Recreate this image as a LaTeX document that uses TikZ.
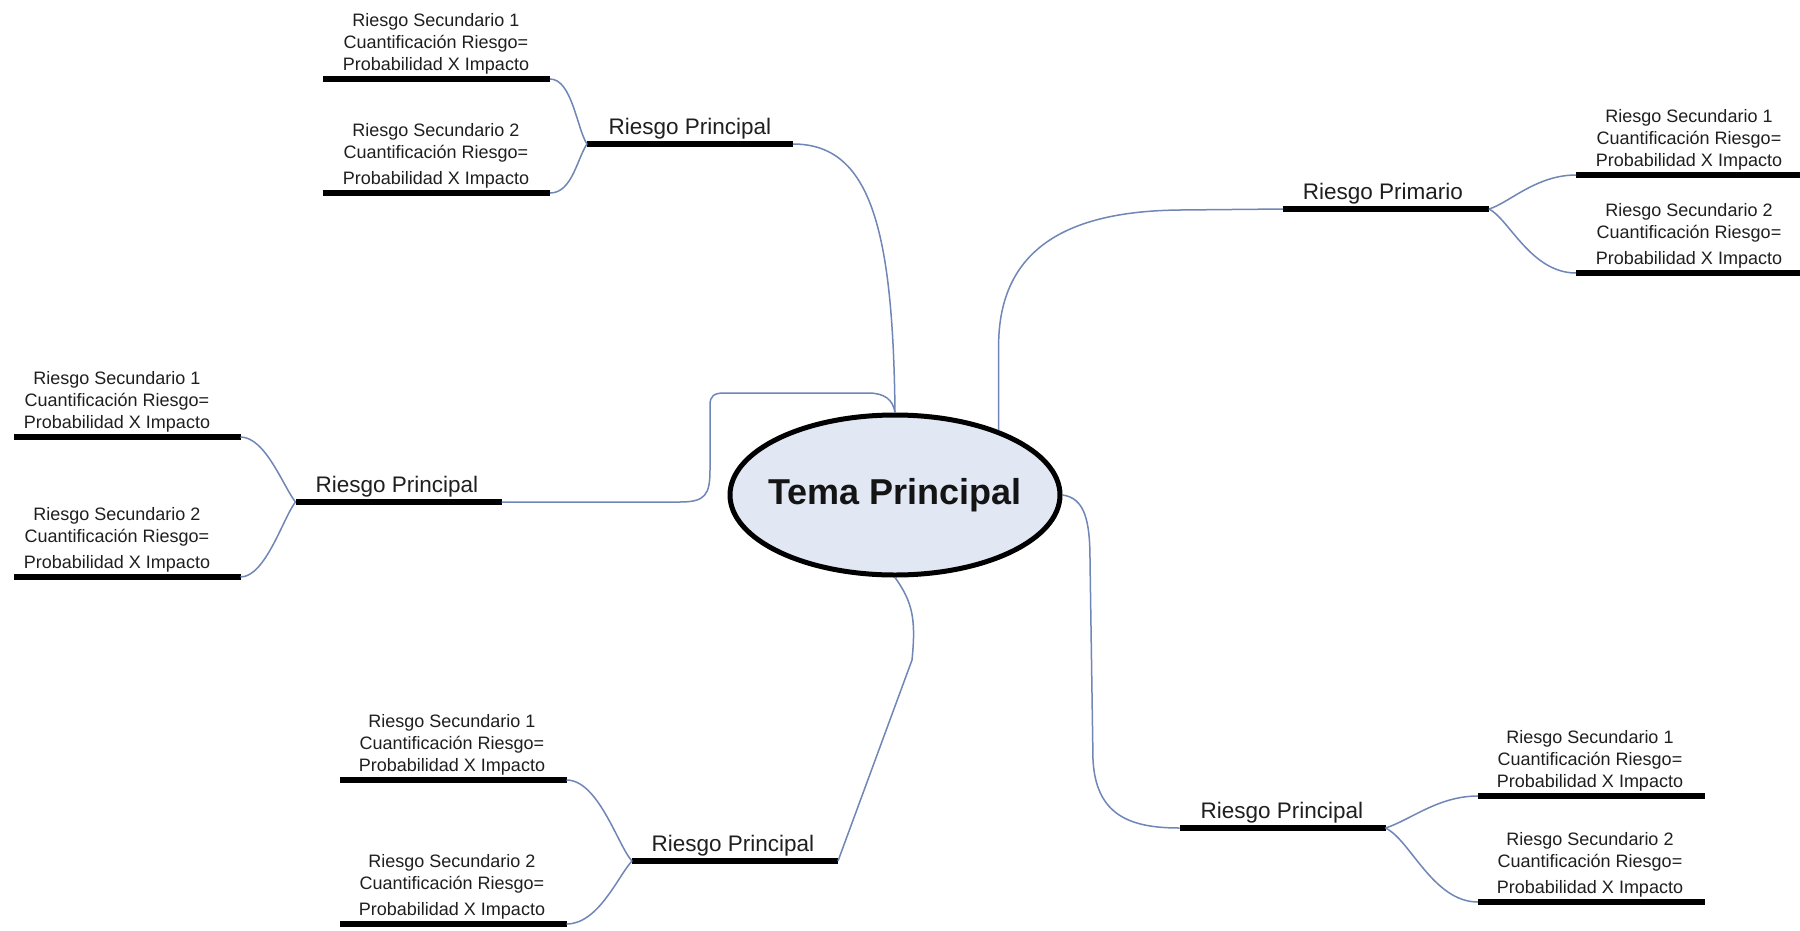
\documentclass[tikz,border=0pt]{standalone}
\usepackage{fontspec}
\setmainfont{Liberation Sans}
\usetikzlibrary{shapes.geometric}
\definecolor{linkblue}{HTML}{6F86B6}
\definecolor{hubfill}{HTML}{E1E8F4}
\begin{document}
\begin{tikzpicture}[x=1pt,y=-1pt,
  bar/.style={rectangle, fill=black, draw=none, inner sep=0pt, outer sep=0pt, minimum height=5.5pt},
  topbar/.style={bar, minimum width=206pt},
  subbar/.style={bar, minimum width=227pt},
  toptext/.style={anchor=south, inner sep=0pt, text=black!88, font=\fontsize{22.5}{27}\selectfont},
  subtext/.style={anchor=south, inner sep=0pt, align=center, text=black!88, font=\fontsize{18}{22}\selectfont},
  link/.style={draw=linkblue, line width=1.5pt},
  hub/.style={ellipse, draw=black, line width=5pt, fill=hubfill, minimum width=330pt,
    minimum height=160pt, inner sep=0pt},
  hubtext/.style={inner sep=0pt, text=black!92, font=\bfseries\fontsize{36}{40}\selectfont}
]
\fill[white] (0,0) rectangle (1800,930);
\useasboundingbox (0,0) rectangle (1800,930);

% central topic
\node[hub] (hub) at (895,495) {};
\node[hubtext] (tHub) at (hub.center) {Tema Principal};

% first-level topics: bar + label
\node[topbar] (A) at (690,144) {};
\node[toptext] (tA) at (690,139) {Riesgo Principal};
\node[topbar] (B) at (398.5,502) {};
\node[toptext] (tB) at (397,497) {Riesgo Principal};
\node[topbar] (C) at (735,861) {};
\node[toptext] (tC) at (733,856) {Riesgo Principal};
\node[topbar] (D) at (1386,209) {};
\node[toptext] (tD) at (1383,204) {Riesgo Primario};
\node[topbar] (E) at (1282.5,828) {};
\node[toptext] (tE) at (1282,823) {Riesgo Principal};

% second-level topics
\newcommand{\subone}{Riesgo Secundario 1\\Cuantificación Riesgo=\\Probabilidad X Impacto}
\newcommand{\subtwo}{Riesgo Secundario 2\\Cuantificación Riesgo=\\[4pt]Probabilidad X Impacto}

\node[subbar] (A1) at (436.5,79) {};
\node[subtext] (tA1) at (436,74.5) {\subone};
\node[subbar] (A2) at (436.5,193) {};
\node[subtext] (tA2) at (436,188.5) {\subtwo};

\node[subbar] (B1) at (127,437) {};
\node[subtext] (tB1) at (117,432.5) {\subone};
\node[subbar] (B2) at (127,577) {};
\node[subtext] (tB2) at (117,572.5) {\subtwo};

\node[subbar] (C1) at (453,780) {};
\node[subtext] (tC1) at (452,775.5) {\subone};
\node[subbar] (C2) at (453,924) {};
\node[subtext] (tC2) at (452,919.5) {\subtwo};

\node[subbar] (D1) at (1689.5,175) {};
\node[subtext] (tD1) at (1689,170.5) {\subone};
\node[subbar] (D2) at (1689.5,273) {};
\node[subtext] (tD2) at (1689,268.5) {\subtwo};

\node[subbar] (E1) at (1591.5,796) {};
\node[subtext] (tE1) at (1590,791.5) {\subone};
\node[subbar] (E2) at (1591.5,902) {};
\node[subtext] (tE2) at (1590,897.5) {\subtwo};

% links from the central topic
\draw[link] (A.east) .. controls +(77,0) and +(-2,-185) .. (hub.north);
\draw[link] (B.east) -- (680,502) .. controls (705,502) and (710,495) .. (710,470)
  -- (710,405) .. controls (710,396) and (714,393) .. (724,393)
  -- (868,393) .. controls (885,393) and (893,400) .. (hub.north);
\draw[link] (hub.32) -- ++(0,-90) .. controls +(3,-100) and (1080,211) .. (1180,210) -- (D.west);
\draw[link] (hub.east) .. controls +(22,3) and +(0,-40) .. (1090,560)
  -- (1093,760) .. controls +(3,55) and +(-50,0) .. (E.west);
\draw[link] (hub.south) .. controls +(18,25) and +(4,-40) .. (912,660) -- (C.east);

% links to second-level topics
\draw[link] (A.west) .. controls +(-10,-15) and +(22,0) .. (A1.east);
\draw[link] (A.west) .. controls +(-10,15) and +(22,0) .. (A2.east);
\draw[link] (B.west) .. controls +(-12,-15) and +(25,0) .. (B1.east);
\draw[link] (B.west) .. controls +(-12,15) and +(25,0) .. (B2.east);
\draw[link] (C.west) .. controls +(-14,-15) and +(32,0) .. (C1.east);
\draw[link] (C.west) .. controls +(-14,15) and +(32,0) .. (C2.east);
\draw[link] (D.east) .. controls +(20,-6) and +(-40,0) .. (D1.west);
\draw[link] (D.east) .. controls +(20,10) and +(-45,0) .. (D2.west);
\draw[link] (E.east) .. controls +(25,-8) and +(-40,0) .. (E1.west);
\draw[link] (E.east) .. controls +(25,12) and +(-45,0) .. (E2.west);
\end{tikzpicture}
\end{document}
